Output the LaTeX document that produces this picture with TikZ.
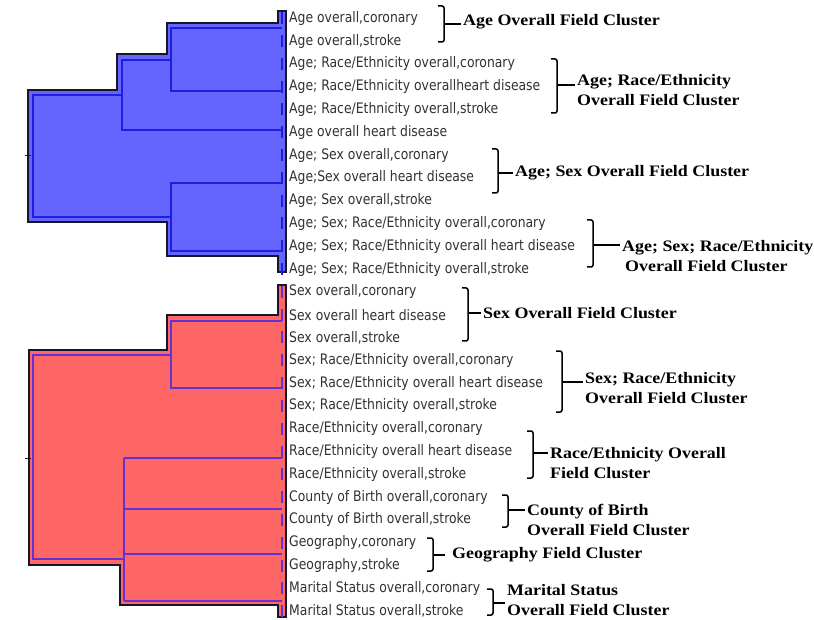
\documentclass[tikz,border=0pt]{standalone}
\usepackage{fontspec}
\setmainfont{Liberation Serif}
\newfontfamily\leaffont[FakeStretch=0.855]{DejaVu Sans}
\newfontfamily\clusfont[FakeStretch=1.12]{Liberation Serif}
\usetikzlibrary{calc}
\definecolor{dgblue}{RGB}{100,100,255}
\definecolor{dgblueln}{RGB}{30,30,225}
\definecolor{dgred}{RGB}{255,102,102}
\definecolor{dgredln}{RGB}{100,50,210}
\definecolor{dgedge}{RGB}{25,20,40}
\definecolor{leafgray}{RGB}{50,50,50}
\tikzset{
  clusterarea/.style={draw=dgedge,line width=1.6pt,line join=miter},
  bline/.style={draw=dgblueln,line width=1.4pt},
  rline/.style={draw=dgredln,line width=1.4pt},
  leaf/.style={anchor=west,inner sep=0pt,text=leafgray,
    font=\leaffont\fontsize{14.5}{16}\selectfont},
  clabel/.style={anchor=west,inner xsep=2pt,inner ysep=0pt,align=left,
    font=\clusfont\bfseries\fontsize{16}{20}\selectfont},
  brk/.style={draw=black,line width=1.5pt,rounded corners=2pt}
}

\begin{document}
\begin{tikzpicture}[x=1pt,y=-1pt]
  \fill[white] (0,0) rectangle (814,620);
  \useasboundingbox (0,0) rectangle (814,620);

  % Cluster areas
  \path[clusterarea,fill=dgblue] (278,11) -- (286,11) -- (286,272) -- (278,272)
    -- (278,256) -- (167,256) -- (167,222) -- (28,222) -- (28,90) -- (117,90)
    -- (117,54) -- (167,54) -- (167,23) -- (278,23) -- cycle;
  \path[clusterarea,fill=dgred] (278,285) -- (286,285) -- (286,617) -- (278,617)
    -- (278,605) -- (120,605) -- (120,565) -- (29,565) -- (29,350) -- (167,350)
    -- (167,315) -- (278,315) -- cycle;

  % Dendrogram, upper part
  \draw[bline] (282,28) -- (171,28) -- (171,91) -- (282,91);
  \draw[bline] (171,60) -- (122,60) -- (122,130) -- (282,130);
  \draw[bline] (122,95) -- (33,95) -- (33,217) -- (171,217);
  \draw[bline] (282,183) -- (171,183) -- (171,251) -- (282,251);
  \draw[dgedge,line width=1pt] (25,156) -- (31,156);

  % Dendrogram, lower part
  \draw[rline] (282,321) -- (171,321) -- (171,388) -- (282,388);
  \draw[rline] (171,355) -- (33,355) -- (33,559) -- (124,559);
  \draw[rline] (124,458) -- (124,601);
  \foreach \y in {458,509,554,601}
    \draw[rline] (124,\y) -- (282,\y);
  \draw[dgedge,line width=1pt] (25,458) -- (31,458);

  % Leaves
  \foreach \i/\t in {0/{Age overall,coronary},1/{Age overall,stroke},
      2/{Age; Race/Ethnicity overall,coronary},
      3/{Age; Race/Ethnicity overallheart disease},
      4/{Age; Race/Ethnicity overall,stroke},5/{Age overall heart disease},
      6/{Age; Sex overall,coronary},7/{Age;Sex overall heart disease},
      8/{Age; Sex overall,stroke},
      9/{Age; Sex; Race/Ethnicity overall,coronary},
      10/{Age; Sex; Race/Ethnicity overall heart disease},
      11/{Age; Sex; Race/Ethnicity overall,stroke},
      12/{Sex overall,coronary},13/{Sex overall heart disease},
      14/{Sex overall,stroke},
      15/{Sex; Race/Ethnicity overall,coronary},
      16/{Sex; Race/Ethnicity overall heart disease},
      17/{Sex; Race/Ethnicity overall,stroke},
      18/{Race/Ethnicity overall,coronary},
      19/{Race/Ethnicity overall heart disease},
      20/{Race/Ethnicity overall,stroke},
      21/{County of Birth overall,coronary},
      22/{County of Birth overall,stroke},
      23/{Geography,coronary},24/{Geography,stroke},
      25/{Marital Status overall,coronary},
      26/{Marital Status overall,stroke}}
    \node[leaf] (l\i) at (289,18.3+22.8*\i) {\t};

  \foreach \i in {0,...,11}
    \draw[bline] ($(l\i.west)+(-7,-6)$) -- ++(0,12);
  \foreach \i in {12,...,26}
    \draw[rline] ($(l\i.west)+(-7,-6)$) -- ++(0,12);

  % Brackets
  \foreach \n/\v/\t/\b/\m in {1/444/6/42/24,2/557/59/113/85,
      3/498/149/193/173,4/593/220/267/245,5/468/288/341/313,
      6/562/351/412/382,7/533/431/478/453,8/508/495/527/510,
      9/433/538/571/555,10/493/589/615/603}{
    \draw[brk] (\v-6,\t) -- (\v,\t) -- (\v,\b) -- (\v-6,\b);
    \coordinate (k\n) at (\v,\m);
  }

  % Cluster names
  \node[clabel] (c1)  at (461,22)  {Age Overall Field Cluster};
  \node[clabel] (c2)  at (575,90)  {Age; Race/Ethnicity\\Overall Field Cluster};
  \node[clabel] (c3)  at (513,173) {Age; Sex Overall Field Cluster};
  \node[clabel] (c4)  at (620,256) {Age; Sex; Race/Ethnicity\\\hspace*{3pt}Overall Field Cluster};
  \node[clabel] (c5)  at (481,313) {Sex Overall Field Cluster};
  \node[clabel] (c6)  at (583,388) {Sex; Race/Ethnicity\\Overall Field Cluster};
  \node[clabel] (c7)  at (548,463) {Race/Ethnicity Overall\\Field Cluster};
  \node[clabel] (c8)  at (525,520) {County of Birth\\Overall Field Cluster};
  \node[clabel] (c9)  at (450,555) {Geography Field Cluster};
  \node[clabel] (c10) at (505,600) {Marital Status\\Overall Field Cluster};

  \foreach \n in {1,...,8,10}
    \draw[brk] (k\n) -- (k\n -| c\n.west);
  \draw[brk,shorten >=5pt] (k9) -- (k9 -| c9.west);
\end{tikzpicture}
\end{document}
